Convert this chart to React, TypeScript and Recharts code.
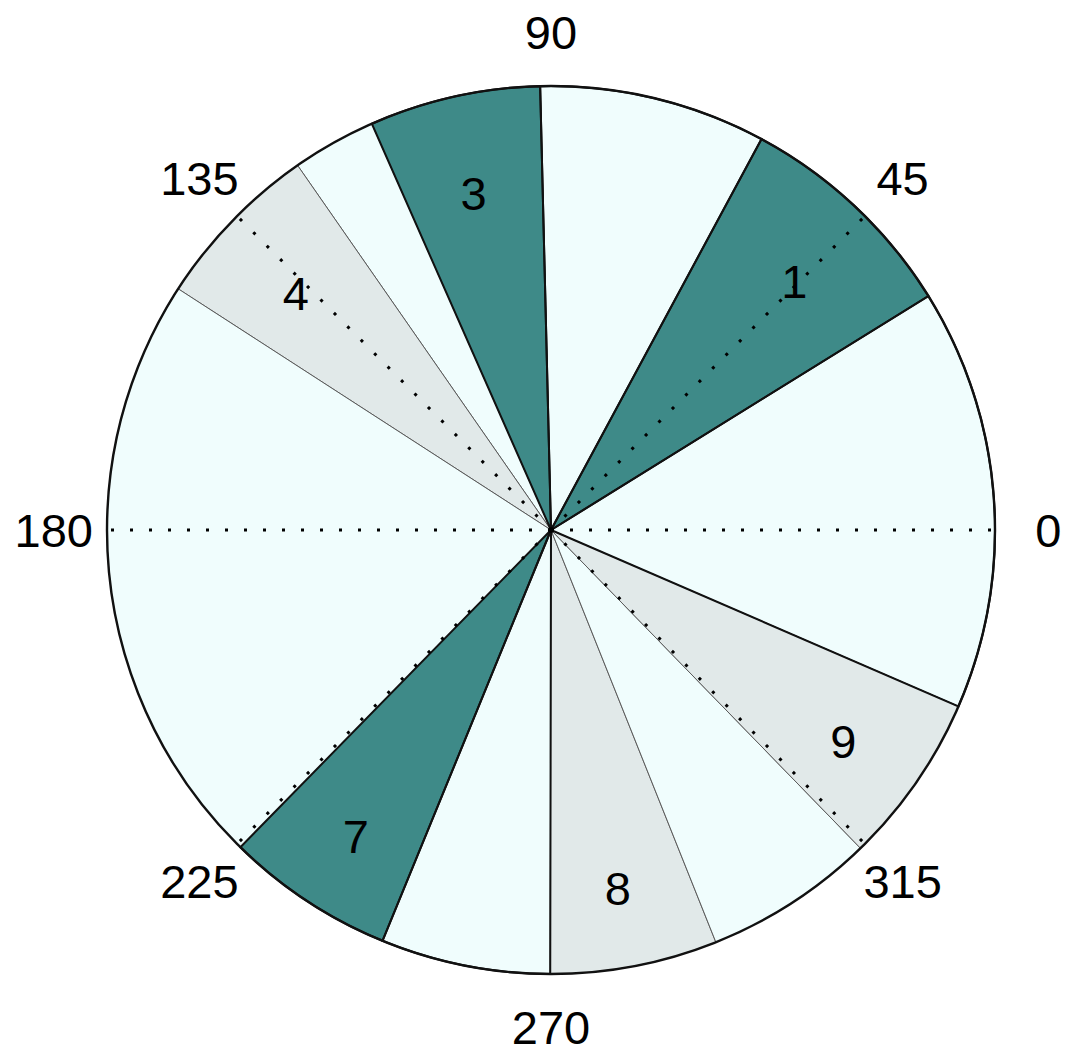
import { PieChart, Pie, Cell, PolarGrid } from "recharts";

// wedges, counter-clockwise from the start angle (angular width in degrees)
const SLICE_LABELS = ["", "1", "", "3", "", "4", "", "7", "", "8", "", "9"];
const SLICE_SPANS = [55.2, 29.9, 29.7, 22.4, 11.0, 22.3, 78.5, 22.1, 22.2, 21.9, 22.4, 22.4];
const SLICE_KINDS = ["gap", "teal", "gap", "teal", "gap", "grey", "gap", "teal", "gap", "grey", "gap", "grey"];
const START_ANGLE = -23.4;

// angle axis labels (equal 45° steps starting at 0)
const ANGLE_TICKS = ["0", "45", "90", "135", "180", "225", "270", "315"];
// dotted radial guides that show in the picture (90 / 270 are hidden under wedge edges)
const GUIDE_ANGLES = [0, 45, 135, 180, 225, 315];

const FILLS: Record<string, string> = {
  gap: "#f0fdfd",
  teal: "#3e8a88",
  grey: "#e1e9e9",
};

// which wedges get the heavy black outline on their straight edges
const HEAVY_EDGE = [true, true, true, true, false, false, false, true, true, false, false, false];

const FONT = '"Liberation Sans", Arial, Helvetica, sans-serif';
const RADIAN = Math.PI / 180;

const CX = 551;
const CY = 530;
const R = 444;
const NO_MARGIN = { top: 0, right: 0, bottom: 0, left: 0 };

const data = SLICE_SPANS.map((span, i) => ({
  name: SLICE_LABELS[i],
  span,
  kind: SLICE_KINDS[i],
}));

const tickData = ANGLE_TICKS.map((t) => ({ name: t, step: 1 }));

function makeLabel(factor: number, dy: number) {
  return (props: any) => {
    const { cx, cy, midAngle, outerRadius, name } = props;
    if (!name) return null;
    const r = outerRadius * factor;
    const x = cx + r * Math.cos(-midAngle * RADIAN);
    const y = cy + r * Math.sin(-midAngle * RADIAN) + dy;
    return (
      <text
        x={x}
        y={y}
        textAnchor="middle"
        dominantBaseline="central"
        fontSize={47}
        fontFamily={FONT}
        fill="#000"
      >
        {name}
      </text>
    );
  };
}

export default function App() {
  return (
    <div style={{ position: "absolute", left: 0, top: 0, background: "#fff" }}>
      <PieChart width={1072} height={1056} margin={NO_MARGIN} cx={CX} cy={CY} outerRadius={R}>
        {/* fills with thin grey separators */}
        <Pie
          data={data}
          dataKey="span"
          cx={CX}
          cy={CY}
          outerRadius={R}
          startAngle={START_ANGLE}
          endAngle={START_ANGLE + 360}
          isAnimationActive={false}
          labelLine={false}
        >
          {data.map((d, i) => (
            <Cell key={i} fill={FILLS[d.kind]} stroke="#5a5a5a" strokeWidth={1} />
          ))}
        </Pie>
        {/* heavy outlines + wedge numbers */}
        <Pie
          data={data}
          dataKey="span"
          cx={CX}
          cy={CY}
          outerRadius={R}
          startAngle={START_ANGLE}
          endAngle={START_ANGLE + 360}
          fill="none"
          isAnimationActive={false}
          labelLine={false}
          label={makeLabel(0.8, 10)}
        >
          {data.map((_, i) => (
            <Cell
              key={i}
              fill="none"
              stroke={HEAVY_EDGE[i] ? "#111" : "none"}
              strokeWidth={2}
            />
          ))}
        </Pie>
        <PolarGrid
          gridType="circle"
          polarAngles={GUIDE_ANGLES}
          polarRadius={[]}
          stroke="#000"
          strokeWidth={3}
          strokeDasharray="3 16"
          zIndex={600}
        />
        <PolarGrid
          gridType="circle"
          radialLines={false}
          polarAngles={[]}
          polarRadius={[R]}
          stroke="#111"
          strokeWidth={2.4}
          zIndex={600}
        />
        {/* invisible ring that carries the angle labels */}
        <Pie
          data={tickData}
          dataKey="step"
          cx={CX}
          cy={CY}
          outerRadius={R}
          startAngle={-22.5}
          endAngle={337.5}
          fill="none"
          stroke="none"
          isAnimationActive={false}
          labelLine={false}
          label={makeLabel(1.12, 0)}
        >
          {tickData.map((_, i) => (
            <Cell key={i} fill="none" stroke="none" />
          ))}
        </Pie>
      </PieChart>
    </div>
  );
}
